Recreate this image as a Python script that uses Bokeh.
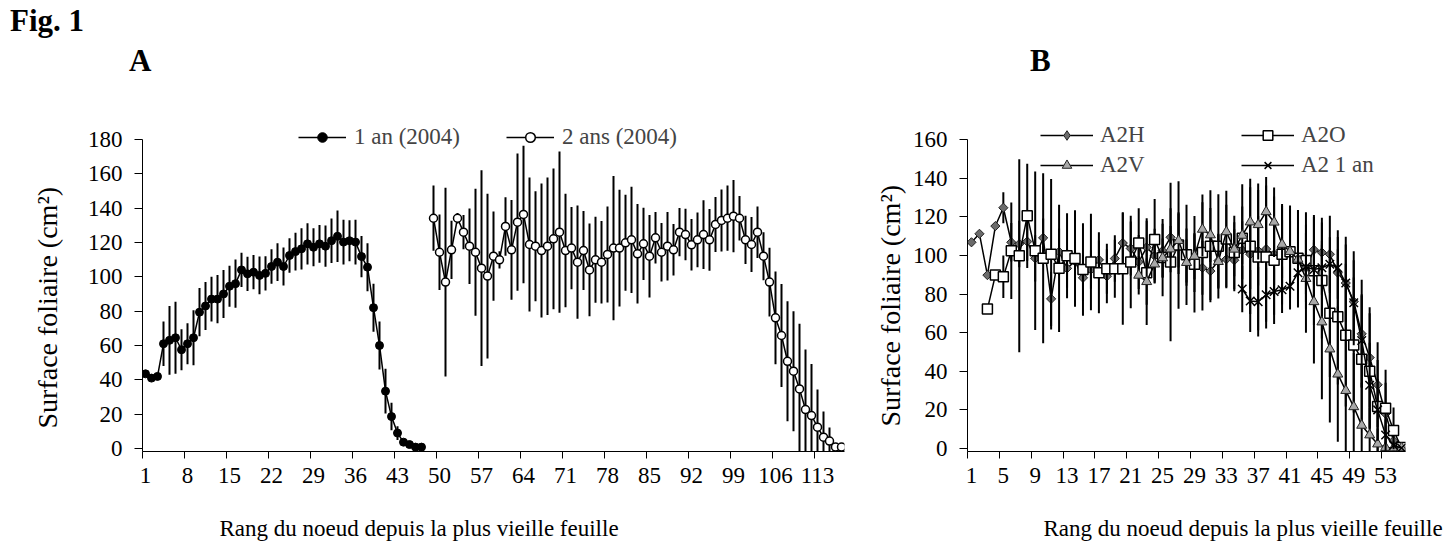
import math
from bokeh.plotting import figure
from bokeh.models import Range1d, FixedTicker, Legend, LegendItem, Title, Div
from bokeh.layouts import row, column
from bokeh.embed import file_html
from bokeh.resources import INLINE

FONT = "Liberation Serif"

# ---------------- Panel A data ----------------
a_rank_1an = list(range(1, 48))
a_1an = [43.5, 41.0, 42.0, 61.0, 63.0, 64.5, 57.5, 61.0, 64.5, 79.4,
         83.0, 87.0, 87.0, 90.0, 94.5, 96.0, 104.0, 101.7, 102.7, 100.8,
         102.0, 106.0, 108.5, 106.0, 112.4, 114.7, 116.3, 119.2, 117.2, 119.2,
         117.8, 121.0, 123.6, 120.2, 121.0, 120.2, 111.8, 105.6, 82.0, 60.0,
         33.4, 18.6, 9.0, 3.7, 2.3, 0.8, 0.8]
a_1an_err = [1, 1, 1, 13, 20, 21, 12, 12, 16, 14,
             14, 13, 14, 14, 12, 14, 10, 10, 10, 11,
             10, 10, 11, 11, 10, 11, 12, 12, 11, 11,
             12, 13, 15, 13, 12, 13, 12, 14, 14, 14,
             13, 8, 4, 2, 1, 1, 1]

a_rank_2ans = list(range(49, 118))
a_2ans = [134.1, 114.3, 96.9, 115.7, 134.1, 126.0, 117.8, 114.3, 105.0, 100.4,
          112.0, 109.9, 129.3, 115.7, 131.8, 136.3, 118.8, 117.8, 115.3, 117.8,
          122.1, 126.0, 115.3, 116.7, 108.5, 115.3, 104.0, 109.9, 108.5, 113.0,
          116.7, 116.7, 119.8, 121.5, 113.4, 119.2, 112.0, 122.7, 114.3, 117.8,
          115.7, 126.0, 124.6, 118.6, 121.5, 124.6, 121.5, 130.5, 132.8, 134.1,
          135.3, 134.1, 121.5, 118.8, 126.0, 112.0, 96.9, 76.1, 65.8, 50.8,
          45.0, 34.7, 22.7, 19.2, 12.4, 6.6, 4.3, 0.8, 0.8]
a_2ans_err = [19, 22, 55, 17, 3, 10, 22, 37, 57, 48,
              26, 5, 17, 29, 40, 40, 39, 32, 39, 40,
              41, 47, 33, 24, 33, 23, 27, 25, 24, 28,
              42, 34, 28, 31, 29, 21, 24, 15, 17, 20,
              15, 14, 15, 15, 16, 20, 18, 16, 18, 19,
              21, 13, 14, 16, 15, 14, 20, 27, 30, 35,
              35, 38, 35, 30, 22, 15, 8, 0, 0]

a_xtick_labels = [1, 8, 15, 22, 29, 36, 43, 50, 57, 64, 71, 78, 85, 92, 99, 106, 113]
a_yticks = [0, 20, 40, 60, 80, 100, 120, 140, 160, 180]

# ---------------- Panel B data ----------------
b_rank_h = list(range(1, 56))
b_h = [106.8, 111.2, 89.8, 115.2, 124.7, 106.8, 105.9, 107.2, 98.5, 109.1,
       77.5, 101.9, 93.3, 97.0, 88.4, 92.7, 97.7, 89.2, 98.4, 106.4,
       103.6, 96.6, 104.2, 99.8, 102.4, 109.4, 106.4, 100.0, 96.0, 93.6,
       91.9, 97.2, 98.0, 97.5, 102.7, 100.6, 102.4, 103.3, 100.6, 103.3,
       101.9, 98.5, 93.6, 102.9, 101.5, 100.6, 91.0, 85.7, 76.1, 59.4,
       47.1, 33.0, 18.0, 4.0, 0.5]
b_h_err = [0, 0, 0, 0, 8, 10, 12, 10, 12, 10,
           14, 12, 10, 10, 12, 10, 10, 14, 12, 16,
           14, 14, 15, 14, 14, 15, 16, 14, 15, 14,
           15, 14, 15, 16, 15, 18, 18, 16, 16, 15,
           16, 16, 18, 18, 18, 20, 22, 24, 26, 28,
           26, 22, 16, 6, 0]

b_rank_o = list(range(3, 56))
b_o = [72.2, 89.8, 88.9, 102.4, 99.8, 120.5, 102.4, 98.5, 100.6, 93.3,
       99.8, 98.4, 92.7, 96.6, 91.0, 93.1, 93.1, 93.1, 96.6, 106.4,
       91.0, 108.2, 98.9, 96.6, 105.4, 100.3, 95.4, 101.5, 104.7, 104.7,
       108.5, 101.5, 108.9, 104.7, 99.2, 99.2, 97.5, 100.6, 101.9, 98.5,
       97.4, 92.0, 87.0, 70.0, 68.2, 58.7, 53.6, 46.2, 40.0, 21.8,
       20.8, 9.3, 0.5]
b_o_err = [0, 0, 11, 25, 50, 27, 41, 44, 39, 33,
           22, 25, 24, 25, 21, 13, 15, 29, 24, 18,
           27, 21, 20, 41, 33, 26, 25, 30, 29, 27,
           25, 19, 28, 35, 38, 37, 33, 26, 24, 25,
           25, 28, 30, 33, 35, 37, 35, 33, 30, 24,
           20, 12, 0]

b_rank_v = list(range(22, 56))
b_v = [89.7, 86.4, 95.5, 98.7, 103.3, 107.7, 96.3, 99.6, 113.5, 110.6,
       96.8, 112.2, 103.2, 110.4, 117.3, 115.9, 122.6, 117.2, 105.7, 102.0,
       98.0, 88.0, 76.0, 65.5, 51.5, 38.5, 30.0, 21.6, 12.0, 7.0,
       2.3, 0.5, 0.3, 0.3]
b_v_err = [10, 12, 10, 10, 12, 14, 12, 12, 14, 14,
           14, 14, 14, 15, 18, 18, 18, 18, 20, 22,
           25, 28, 32, 40, 38, 35, 32, 28, 22, 14,
           8, 3, 0, 0]

b_rank_1an = list(range(35, 56))
b_1an = [82.6, 76.4, 76.0, 79.6, 81.3, 82.2, 84.0, 91.0, 94.0, 92.7,
         93.6, 95.4, 93.6, 85.7, 75.5, 55.9, 32.8, 20.0, 7.0, 1.6,
         0.3]
b_1an_err = [12, 16, 18, 14, 12, 12, 12, 14, 14, 14,
             14, 14, 16, 20, 22, 24, 22, 16, 8, 2,
             0]

b_xtick_labels = [1, 5, 9, 13, 17, 21, 25, 29, 33, 37, 41, 45, 49, 53]
b_yticks = [0, 20, 40, 60, 80, 100, 120, 140, 160]

Y_TITLE = "Surface foliaire (cm²)"
X_TITLE = "Rang du noeud depuis la plus vieille feuille"

TICK_PX = "23px"
YTITLE_PX = "28px"
LEG_PX = "23px"

H_FILL = "#6b6b6b"


def style_axes(p, xt, yt, ybounds):
    p.outline_line_color = None
    p.xgrid.grid_line_color = None
    p.ygrid.grid_line_color = None
    p.background_fill_color = "white"
    p.border_fill_color = "white"
    for ax in p.axis:
        ax.axis_line_color = "black"
        ax.axis_line_width = 1
        ax.major_label_text_font = FONT
        ax.major_label_text_font_size = TICK_PX
        ax.major_label_text_color = "black"
    p.xaxis.ticker = FixedTicker(ticks=xt, minor_ticks=[t - 0.5 for t in xt])
    p.xaxis.major_tick_out = 0
    p.xaxis.major_tick_in = 0
    p.xaxis.minor_tick_out = 7
    p.xaxis.minor_tick_in = 0
    p.xaxis.minor_tick_line_color = "black"
    p.xaxis.major_label_standoff = 9
    p.yaxis.ticker = FixedTicker(ticks=yt)
    p.yaxis.bounds = ybounds
    p.yaxis.major_tick_out = 8
    p.yaxis.major_tick_in = 0
    p.yaxis.major_tick_line_color = "black"
    p.yaxis.minor_tick_line_color = None
    p.yaxis.major_label_standoff = 12


def errbars(p, xs, ys, es):
    p.segment(x0=xs, y0=[y - e for y, e in zip(ys, es)],
              x1=xs, y1=[y + e for y, e in zip(ys, es)],
              line_color="black", line_width=2)


def ytitle(p, standoff, offset):
    p.add_layout(Title(text=Y_TITLE, align="left", offset=offset, standoff=standoff,
                       text_font=FONT, text_font_size=YTITLE_PX, text_font_style="normal",
                       text_color="black"), "left")


# ---------------- Figure A ----------------
pA = figure(width=867, height=400, x_range=Range1d(0.5, 117.5), y_range=Range1d(-1.75, 195.1),
            output_backend="svg", toolbar_location=None,
            min_border_left=142, min_border_right=23, min_border_top=13, min_border_bottom=49)
style_axes(pA, a_xtick_labels, a_yticks, (-1.75, 180))
ytitle(pA, 44, 23)

errbars(pA, a_rank_1an, a_1an, a_1an_err)
l1 = pA.line(a_rank_1an, a_1an, line_color="black", line_width=1.5)
m1 = pA.scatter(a_rank_1an, a_1an, marker="circle", size=8, fill_color="black", line_color="black")
errbars(pA, a_rank_2ans, a_2ans, a_2ans_err)
l2 = pA.line(a_rank_2ans, a_2ans, line_color="black", line_width=1.5)
m2 = pA.scatter(a_rank_2ans, a_2ans, marker="circle", size=8, fill_color="white",
                line_color="black", line_width=1.5)

legA = Legend(items=[LegendItem(label="1 an (2004)", renderers=[l1, m1]),
                     LegendItem(label="2 ans (2004)", renderers=[l2, m2])],
              location=(156, 301), orientation="horizontal", spacing=46,
              padding=0, margin=0, border_line_color=None, background_fill_alpha=0,
              glyph_width=48, glyph_height=24, label_height=24, label_standoff=8,
              label_text_font=FONT, label_text_font_size=LEG_PX, label_text_baseline="middle")
pA.add_layout(legA)

# ---------------- Figure B ----------------
pB = figure(width=581, height=400, x_range=Range1d(0.5, 55.5), y_range=Range1d(-1.55, 173.5),
            output_backend="svg", toolbar_location=None,
            min_border_left=100, min_border_right=43, min_border_top=13, min_border_bottom=49)
style_axes(pB, b_xtick_labels, b_yticks, (-1.55, 160))
ytitle(pB, 7, 25)

errbars(pB, b_rank_h, b_h, b_h_err)
lh = pB.line(b_rank_h, b_h, line_color="black", line_width=1.5)
mh = pB.scatter(b_rank_h, b_h, marker="square", angle=math.pi / 4, size=6.5,
                fill_color=H_FILL, line_color="#222222", line_width=1)
# hidden twin used only for the legend swatch (legend glyphs are drawn unrotated)
mh_leg = pB.scatter(b_rank_h, b_h, marker="diamond", size=10, visible=False,
                    fill_color=H_FILL, line_color="#222222", line_width=1)

errbars(pB, b_rank_o, b_o, b_o_err)
lo = pB.line(b_rank_o, b_o, line_color="black", line_width=1.5)
mo = pB.scatter(b_rank_o, b_o, marker="square", size=10, fill_color="white",
                line_color="black", line_width=1.5)

errbars(pB, b_rank_v, b_v, b_v_err)
lv = pB.line(b_rank_v, b_v, line_color="black", line_width=1.5)
mv = pB.scatter(b_rank_v, b_v, marker="triangle", size=10, fill_color="#a8a8a8",
                line_color="#222222", line_width=1)

errbars(pB, b_rank_1an, b_1an, b_1an_err)
l1b = pB.line(b_rank_1an, b_1an, line_color="black", line_width=1.5)
m1b = pB.scatter(b_rank_1an, b_1an, marker="x", size=12, line_color="black", line_width=1.5)

common = dict(orientation="vertical", spacing=4, padding=0, margin=0,
              border_line_color=None, background_fill_alpha=0,
              inactive_fill_alpha=0,
              glyph_width=53, glyph_height=24, label_height=24, label_standoff=7,
              label_text_font=FONT, label_text_font_size=LEG_PX, label_text_baseline="middle")
legB1 = Legend(items=[LegendItem(label="A2H", renderers=[lh, mh_leg]),
                      LegendItem(label="A2V", renderers=[lv, mv])],
               location=(73, 273), **common)
legB2 = Legend(items=[LegendItem(label="A2O", renderers=[lo, mo]),
                      LegendItem(label="A2 1 an", renderers=[l1b, m1b])],
               location=(274, 273), **common)
pB.add_layout(legB1)
pB.add_layout(legB2)

# ---------------- header / footer texts ----------------
hdr = Div(width=1448, height=100, margin=0, text=(
    "<div style=\"position:relative;width:1448px;height:100px;font-family:'Liberation Serif';"
    "font-weight:bold;font-size:31px;line-height:31px;color:black;white-space:nowrap;\">"
    "<span style=\"position:absolute;left:10px;top:5px;\">Fig. 1</span>"
    "<span style=\"position:absolute;left:129px;top:45px;\">A</span>"
    "<span style=\"position:absolute;left:1030px;top:45px;\">B</span>"
    "</div>"))
ftr = Div(width=1448, height=50, margin=0, text=(
    "<div style=\"position:relative;width:1448px;height:50px;font-family:'Liberation Serif';"
    "font-size:23px;line-height:23px;color:black;white-space:nowrap;\">"
    "<span style=\"position:absolute;left:419px;top:17px;transform:translateX(-50%);\">"
    + X_TITLE + "</span>"
    "<span style=\"position:absolute;left:1243px;top:17px;transform:translateX(-50%);\">"
    + X_TITLE + "</span>"
    "</div>"))

layout = column(hdr, row(pA, pB), ftr)
open("out.html", "w").write(file_html(layout, INLINE))
